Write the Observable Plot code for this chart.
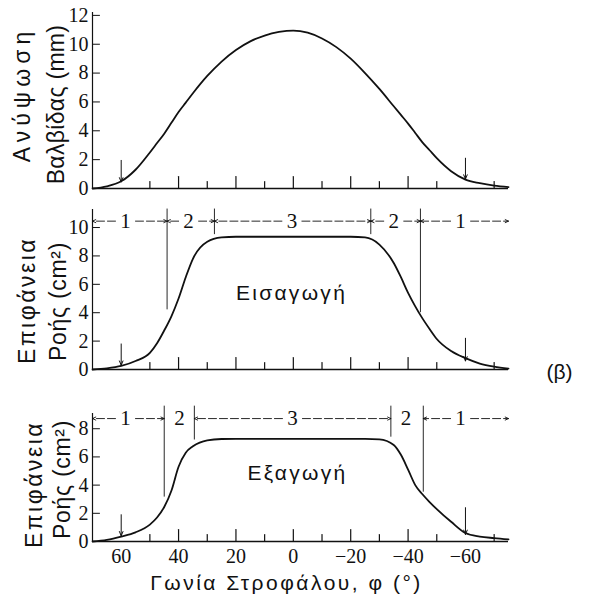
<!DOCTYPE html>
<html><head><meta charset="utf-8">
<script src="https://cdn.jsdelivr.net/npm/d3@7"></script>
<script src="https://cdn.jsdelivr.net/npm/@observablehq/plot@0.6"></script>
<style>
body{margin:0;background:#fff;}
#chart{position:relative;width:609px;height:597px;overflow:hidden;background:#fff;}
#chart svg{position:absolute;left:0;}
</style></head><body><div id="chart"></div>
<script>
// ---- data ----
const angles = [70,65,60,55,50,47.5,45,42.5,40,37.5,35,30,25,20,15,10,5,0,-5,-10,-15,-20,-25,-30,-35,-37.5,-40,-42.5,-45,-47.5,-50,-55,-60,-65,-70,-75];
const liftMm = [0,0.15,0.5,1.3,2.5,3.15,3.8,4.55,5.3,5.95,6.6,7.8,8.8,9.6,10.2,10.6,10.85,10.95,10.8,10.4,9.8,9.0,8.0,6.9,5.7,5.1,4.5,3.85,3.2,2.65,2.1,1.2,0.62,0.37,0.2,0.1];
const intakeArea = [0,0.08,0.25,0.6,1.17,1.85,2.75,3.75,5.0,6.5,7.8,9.0,9.3,9.35,9.35,9.35,9.35,9.35,9.35,9.35,9.35,9.35,9.3,8.8,7.5,6.5,5.4,4.45,3.6,2.85,2.15,1.3,0.8,0.42,0.2,0.06];
const exhaustArea = [0,0.12,0.35,0.65,1.2,1.7,2.45,3.6,5.3,6.3,6.75,7.18,7.27,7.28,7.28,7.28,7.28,7.28,7.28,7.28,7.28,7.28,7.28,7.25,6.85,6.15,5.1,4.0,3.35,2.8,2.3,1.4,0.6,0.35,0.24,0.15];

const majorTicks = [40,20,0,-20,-40];
const minorTicks = [50,30,10,-10,-30,-50,-70];
const xTickLabels = [60,40,20,0,-20,-40,-60];
const liftTicks = [0,2,4,6,8,10,12];
const intakeTicks = [0,2,4,6,8,10];
const exhaustTicks = [0,2,4,6,8];

const markerAngles = [60,-60];
const liftMarkerTop = [1.95,2.1], liftMarkerTip = [0.45,0.65];
const intakeMarkerTop = [1.8,2.2], intakeMarkerTip = [0.3,0.6];
const exhaustMarkerTop = [1.9,2.4], exhaustMarkerTip = [0.4,0.5];

const phaseNames = ["1","2","3","2","1"];
const intakeBounds = [70,44,27.5,-27,-44.3,-75];
const intakeLabelAt = [58.5,36.5,0.5,-35,-58.3];
const intakeLineEnd = [4.2,9.5,9.5,4.0];
const intakePhaseArrows = [true,true,true,true,true];
const intakeRowY = 10.45, intakePhaseTop = 11.3;
const exhaustBounds = [70,45,34.5,-34,-45.3,-75];
const exhaustLabelAt = [58.5,39.7,0.3,-39.3,-58.3];
const exhaustLineEnd = [3.15,7.2,7.4,3.5];
const exhaustPhaseArrows = [true,false,true,false,true];
const exhaustRowY = 8.72, exhaustPhaseTop = 9.6;

// ---- styles ----
const ink = "#111";
const sans = "Liberation Sans, Arial, sans-serif";
const serif = "Liberation Serif, Times New Roman, serif";
const tickShape = {draw(ctx, l) { ctx.moveTo(0, 0); ctx.lineTo(0, -l); }};

function phaseMarks(bounds, labelAt, lineEnd, rowY, top, withArrows) {
  const segs = [];
  phaseNames.forEach((n, i) => {
    if (!withArrows[i]) return;
    segs.push({from: labelAt[i], to: bounds[i], y: rowY});
    segs.push({from: labelAt[i], to: bounds[i + 1], y: rowY});
  });
  const lines = lineEnd.map((e, i) => ({angle: bounds[i + 1], end: e, top}));
  const labels = phaseNames.map((n, i) => ({name: n, angle: labelAt[i], y: rowY}));
  return [
    Plot.ruleX(lines, {x: "angle", y1: "end", y2: "top", stroke: ink, strokeWidth: 0.9}),
    Plot.arrow(segs, {x1: "from", x2: "to", y: "y", insetStart: 10, headLength: 6, headAngle: 50,
      strokeDasharray: "8,3", stroke: ink, strokeWidth: 0.9}),
    Plot.text(labels, {x: "angle", y: "y", text: "name", fontFamily: serif, fontSize: 21, fill: ink})
  ];
}

function yTitle(text, dx, dy) {
  return Plot.text([text], {frameAnchor: "left", textAnchor: "middle", lineAnchor: "middle", rotate: -90, dx, dy,
    fontFamily: sans, fontSize: 23, fill: ink});
}

function panel({series, yDomain, yTicks, height, marginTop, marginBottom, markerTop, markerTip, xAxis, extra}) {
  const rows = angles.map((a, i) => ({angle: a, value: series[i]}));
  const markers = markerAngles.map((a, i) => ({angle: a, top: markerTop[i], tip: markerTip[i]}));
  const marks = [
    Plot.ruleX([70], {stroke: ink, strokeWidth: 1.2}),
    Plot.ruleY([0], {stroke: ink, strokeWidth: 1.5}),
    Plot.axisY(yTicks, {anchor: "left", tickSize: 0, tickPadding: 4, fontFamily: serif, fontSize: 20, label: null, color: ink}),
    Plot.vector(yTicks, {y: d => d, frameAnchor: "left", rotate: 90, length: 7, anchor: "start", shape: tickShape, stroke: ink, strokeWidth: 1}),
    Plot.vector(majorTicks, {x: d => d, frameAnchor: "bottom", length: 12, anchor: "start", shape: tickShape, stroke: ink, strokeWidth: 1.2}),
    Plot.vector(minorTicks, {x: d => d, frameAnchor: "bottom", length: 7, anchor: "start", shape: tickShape, stroke: ink, strokeWidth: 1.2}),
    Plot.line(rows, {x: "angle", y: "value", curve: "monotone-x", stroke: ink, strokeWidth: 1.8}),
    Plot.arrow(markers, {x: "angle", y1: "top", y2: "tip", headLength: 7, headAngle: 45, stroke: ink, strokeWidth: 1}),
    ...extra
  ];
  if (xAxis) marks.push(Plot.axisX(xTickLabels, {anchor: "bottom", tickSize: 0, tickPadding: 7, fontFamily: serif, fontSize: 20, label: null, color: ink}));
  return Plot.plot({
    width: 609, height, marginLeft: 92, marginRight: 101, marginTop, marginBottom,
    style: {overflow: "visible", background: "transparent"},
    x: xAxis ? {domain: [70, -75]} : {domain: [70, -75], axis: null},
    y: {domain: yDomain},
    marks
  });
}

const p1 = panel({
  series: liftMm, yDomain: [0, 12.2], yTicks: liftTicks, height: 195, marginTop: 12, marginBottom: 7,
  markerTop: liftMarkerTop, markerTip: liftMarkerTip, xAxis: false,
  extra: [yTitle("Ανύψωση", -70, -6), yTitle("Βαλβίδας (mm)", -36, 4)]
});
const p2 = panel({
  series: intakeArea, yDomain: [0, 11.27], yTicks: intakeTicks, height: 190, marginTop: 14, marginBottom: 16,
  markerTop: intakeMarkerTop, markerTip: intakeMarkerTip, xAxis: false,
  extra: [
    ...phaseMarks(intakeBounds, intakeLabelAt, intakeLineEnd, intakeRowY, intakePhaseTop, intakePhaseArrows),
    yTitle("Επιφάνεια", -65, 11), yTitle("Ροής (cm²)", -34, 12),
    Plot.text(["Εισαγωγή"], {frameAnchor: "middle", dx: -9, dy: 4, fontFamily: sans, fontSize: 21, fill: ink}),
    Plot.text(["(β)"], {frameAnchor: "bottom-right", textAnchor: "middle", lineAnchor: "middle", dx: 51, dy: 3, fontFamily: sans, fontSize: 21, fill: ink})
  ]
});
const p3 = panel({
  series: exhaustArea, yDomain: [0, 9.08], yTicks: exhaustTicks, height: 212, marginTop: 28, marginBottom: 56,
  markerTop: exhaustMarkerTop, markerTip: exhaustMarkerTip, xAxis: true,
  extra: [
    ...phaseMarks(exhaustBounds, exhaustLabelAt, exhaustLineEnd, exhaustRowY, exhaustPhaseTop, exhaustPhaseArrows),
    yTitle("Επιφάνεια", -58, 7), yTitle("Ροής (cm²)", -30, 2),
    Plot.text(["Εξαγωγή"], {frameAnchor: "middle", dx: -3, dy: -4, fontFamily: sans, fontSize: 21, fill: ink}),
    Plot.text(["Γωνία Στροφάλου, φ (°)"], {frameAnchor: "bottom", textAnchor: "middle", lineAnchor: "middle", dx: -14, dy: 42, fontFamily: sans, fontSize: 21, fill: ink})
  ]
});

const chart = document.getElementById("chart");
[[p1, 0], [p2, 195], [p3, 385]].forEach(([svg, top]) => {
  svg.style.top = top + "px";
  chart.appendChild(svg);
});

// letter spacing to match the reference's wide type
const spacing = {"Ανύψωση": 5, "Βαλβίδας (mm)": 0.3, "Επιφάνεια": 2.5, "Ροής (cm²)": 0.7,
  "Εισαγωγή": 2.3, "Εξαγωγή": 2.3, "Γωνία Στροφάλου, φ (°)": 2.5};
d3.select(chart).selectAll("text").each(function() {
  const t = this.textContent;
  if (spacing[t] != null) this.setAttribute("letter-spacing", spacing[t]);
});
</script></body></html>
